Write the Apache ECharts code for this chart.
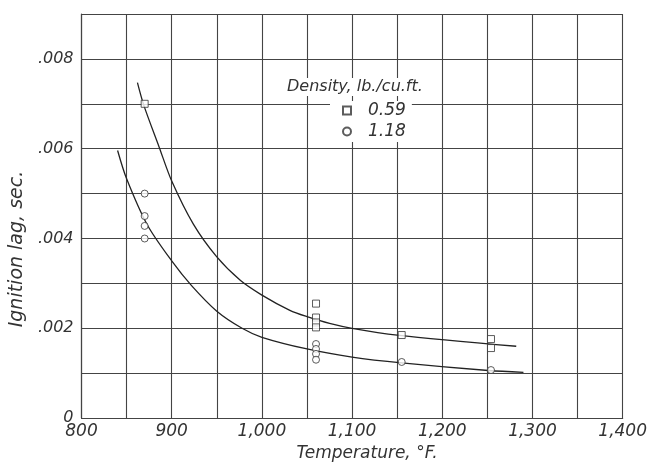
<!DOCTYPE html>
<html>
<head>
<meta charset="utf-8">
<script src="https://cdn.jsdelivr.net/npm/echarts@6/dist/echarts.min.js"></script>
<style>
html,body{margin:0;padding:0;background:#fff;}
#c{width:650px;height:467px;}
</style>
</head>
<body>
<div id="c"></div>
<script>
// Measured data (temperature °F, ignition lag s)
const squares059 = [[870,0.0070],[1060,0.00255],[1060,0.00224],[1060,0.00213],[1060,0.00202],[1155,0.00185],[1254,0.00176],[1254,0.00156]];
const circles118 = [[870,0.0050],[870,0.0045],[870,0.00428],[870,0.0040],[1060,0.00165],[1060,0.00154],[1060,0.00143],[1060,0.0013],[1155,0.00125],[1254,0.00107]];
// Faired curves
const curve059 = [[862,0.00747],[869,0.00697],[886,0.00604],[900,0.00528],[924,0.00432],[950,0.00359],[976,0.00307],[1000,0.00274],[1031,0.0024],[1050,0.00226],[1075,0.00211],[1100,0.0020],[1150,0.00185],[1282,0.0016]];
const curve118 = [[840,0.00596],[850,0.00533],[873,0.0043],[900,0.0035],[922,0.00295],[950,0.00238],[978,0.0020],[1000,0.0018],[1050,0.00154],[1100,0.00136],[1155,0.00123],[1251,0.00106],[1290,0.00102]];
const legendNames = ['0.59','1.18'];
const legendTitle = 'Density, lb./cu.ft.';
const xName = 'Temperature, °F.';
const yName = 'Ignition lag, sec.';

const FONT = 'DejaVu Sans';
const INK = '#333';
const chart = echarts.init(document.getElementById('c'));
chart.setOption({
  backgroundColor: '#fff',
  animation: false,
  title: {
    text: legendTitle, left: 283, top: 78, padding: [1,4],
    backgroundColor: '#fff',
    textStyle: {fontFamily: FONT, fontStyle: 'italic', fontWeight: 'normal', fontSize: 16, color: INK}
  },
  legend: {
    data: [{name: legendNames[0], icon: 'rect'}, {name: legendNames[1], icon: 'circle'}],
    orient: 'vertical', left: 330, top: 101, padding: [1,6,2,12],
    backgroundColor: '#fff',
    itemWidth: 8, itemHeight: 8, itemGap: 4,
    textStyle: {fontFamily: FONT, fontStyle: 'italic', fontSize: 17, color: INK, padding: [0,0,0,12], lineHeight: 16}
  },
  grid: {left: 81, right: 23, top: 14, bottom: 44},
  xAxis: {
    type: 'value', min: 800, max: 1400, interval: 50,
    name: xName, nameLocation: 'middle', nameGap: 25,
    nameTextStyle: {fontFamily: FONT, fontStyle: 'italic', fontSize: 17, color: INK, padding: [0,0,0,30]},
    axisLine: {show: true, lineStyle: {color: '#444', width: 1.2}},
    axisTick: {show: false},
    axisLabel: {
      margin: 5, fontFamily: FONT, fontStyle: 'italic', fontSize: 17, color: INK,
      formatter: v => (v % 100 === 0 ? v.toLocaleString('en-US') : '')
    },
    splitLine: {show: true, lineStyle: {color: '#444', width: 1.1}}
  },
  yAxis: {
    type: 'value', min: 0, max: 0.009, interval: 0.001,
    name: yName, nameLocation: 'middle', nameGap: 48,
    nameTextStyle: {fontFamily: FONT, fontStyle: 'italic', fontSize: 19, color: INK, padding: [0,66,0,0]},
    axisLine: {show: true, lineStyle: {color: '#444', width: 1.2}},
    axisTick: {show: false},
    axisLabel: {
      margin: 8, fontFamily: FONT, fontStyle: 'italic', fontSize: 16, color: INK,
      formatter: v => {
        const k = Math.round(v * 1000);
        if (k % 2 !== 0) return '';
        return k === 0 ? '0' : '.' + String(k).padStart(3, '0');
      }
    },
    splitLine: {show: true, lineStyle: {color: '#444', width: 1.1}}
  },
  series: [
    {type: 'line', data: curve059, smooth: 0.3, symbol: 'none', silent: true,
     lineStyle: {color: '#222', width: 1.3}, z: 3},
    {type: 'line', data: curve118, smooth: 0.3, symbol: 'none', silent: true,
     lineStyle: {color: '#222', width: 1.3}, z: 3},
    {name: legendNames[0], type: 'scatter', data: squares059, symbol: 'rect', symbolSize: 7,
     itemStyle: {color: '#fff', borderColor: '#333', borderWidth: 1}, z: 5},
    {name: legendNames[1], type: 'scatter', data: circles118, symbol: 'circle', symbolSize: 7,
     itemStyle: {color: '#fff', borderColor: '#333', borderWidth: 1}, z: 5}
  ]
});
</script>
</body>
</html>
